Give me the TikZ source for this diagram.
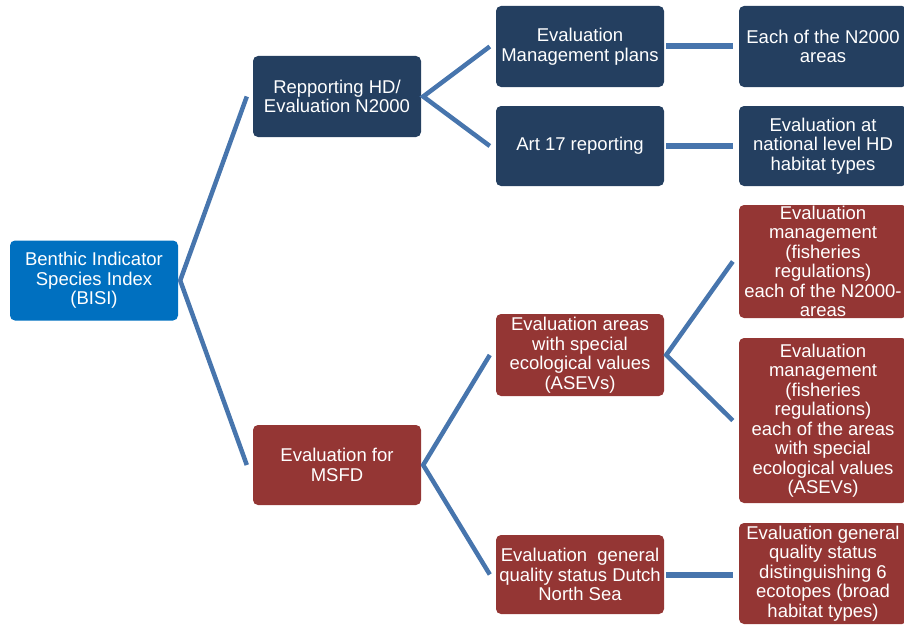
\documentclass[tikz,border=0pt]{standalone}
\usepackage{fontspec}
\setmainfont{Liberation Sans}
\definecolor{navy}{HTML}{243F60}
\definecolor{bisiblue}{HTML}{0070C0}
\definecolor{brick}{HTML}{943634}
\definecolor{linkblue}{HTML}{4775AD}
\begin{document}
\begin{tikzpicture}[x=1pt,y=-1pt,
  box/.style={rectangle, rounded corners=5pt, inner sep=0pt, minimum width=168pt,
    text=white, align=center, font=\fontsize{18.5}{19.5}\selectfont},
  navybox/.style={box, fill=navy},
  bluebox/.style={box, fill=bisiblue},
  redbox/.style={box, fill=brick},
  link/.style={draw=linkblue, line width=4.5pt, line join=miter},
  hlink/.style={draw=linkblue, line width=6pt}]
\useasboundingbox (0,0) rectangle (904,626);
\node[bluebox, minimum height=80pt] (bisi) at (94,280.5) {Benthic Indicator\\Species Index\\(BISI)};
\node[navybox, minimum height=81pt] (rep) at (337,96.5) {Repporting HD/\\Evaluation N2000};
\node[redbox, minimum height=80pt] (msfd) at (337,465) {Evaluation for\\MSFD};
\node[navybox, minimum height=81pt] (emp) at (580,46.5) {Evaluation\\Management plans};
\node[navybox, minimum height=80pt] (art) at (580,146) {Art 17 reporting};
\node[navybox, minimum height=81pt] (each) at (823,46.5) {Each of the N2000\\areas};
\node[navybox, minimum height=80pt] (nat) at (823,146) {Evaluation at\\national level HD\\habitat types};
\node[redbox, minimum height=82pt] (asev) at (580,355) {Evaluation areas\\with special\\ecological values\\(ASEVs)};
\node[redbox, minimum height=113pt] (mn) at (823,261.5) {Evaluation\\management\\(fisheries\\regulations)\\each of the N2000-\\areas};
\node[redbox, minimum height=165pt] (ma) at (823,420.5) {Evaluation\\management\\(fisheries\\regulations)\\each of the areas\\with special\\ecological values\\(ASEVs)};
\node[redbox, minimum height=79pt] (dutch) at (580,574.5) {Evaluation\ \ general\\quality status Dutch\\North Sea};
\node[redbox, minimum height=101pt] (dist) at (823,573.5) {Evaluation general\\quality status\\distinguishing 6\\ecotopes (broad\\habitat types)};
% connectors
\coordinate (bisiR) at ([xshift=2pt]bisi.east);
\coordinate (repR) at ([xshift=2pt]rep.east);
\coordinate (msfdR) at ([xshift=2pt]msfd.east);
\coordinate (asevR) at ([xshift=2pt]asev.east);
\draw[link] ([xshift=-6pt]rep.west) -- (bisiR) -- ([xshift=-6pt]msfd.west);
\draw[link] ([xshift=-6pt]emp.west) -- (repR) -- ([xshift=-6pt]art.west);
\draw[link] ([xshift=-6pt]asev.west) -- (msfdR) -- ([xshift=-6pt]dutch.west);
\draw[link] ([xshift=-6pt]mn.west) -- (asevR) -- ([xshift=-6pt]ma.west);
\draw[hlink] ([xshift=2pt]emp.east) -- ([xshift=-6pt]each.west |- emp.east);
\draw[hlink] ([xshift=2pt]art.east) -- ([xshift=-6pt]nat.west |- art.east);
\draw[hlink] ([xshift=2pt]dutch.east) -- ([xshift=-6pt]dist.west |- dutch.east);
\end{tikzpicture}
\end{document}
